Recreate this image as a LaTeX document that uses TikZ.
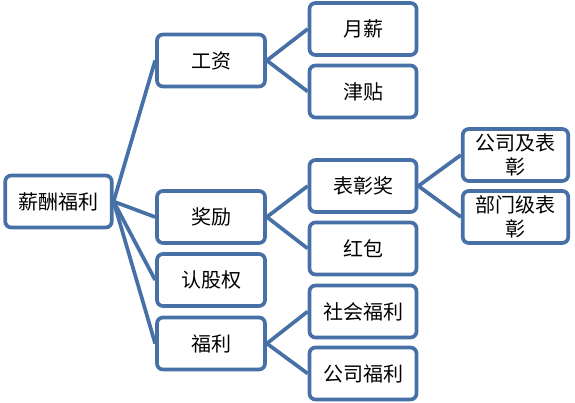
\documentclass[tikz,border=0pt]{standalone}
\usepackage{fontspec}
\setmainfont{Noto Sans CJK SC}
\usetikzlibrary{positioning}
\definecolor{smartblue}{RGB}{71,113,166}

\begin{document}
\begin{tikzpicture}
      [x=1pt, y=-1pt,
      node style1/.style={draw=smartblue, line width=3.7pt, rectangle, rounded corners=6pt, align=center, minimum width=108pt, minimum height=52pt, inner sep=1pt, fill=white, font=\fontsize{20}{24}\selectfont},
      node style2/.style={node style1, minimum width=105.5pt},
      edge style/.style={draw=smartblue, line width=3.7pt}
      ]
      \useasboundingbox (0,0) rectangle (575,402);

      % root
      \node[node style1, minimum width=106.5pt] (pay) at (58.5,201.5) {薪酬福利};

      % first level
      \node[node style1] (wage) at (211,60.5) {工资};
      \node[node style1] (bonus) at (211,217) {奖励};
      \node[node style1] (stock) at (211,280) {认股权};
      \node[node style1] (welfare) at (211,343.5) {福利};

      % second level
      \node[node style1, minimum width=107pt] (salary) at (363,29) {月薪};
      \node[node style1, minimum width=107pt] (allowance) at (363,91.5) {津贴};
      \node[node style1, minimum width=107pt] (award) at (363,186) {表彰奖};
      \node[node style1, minimum width=107pt] (redpack) at (363,248.5) {红包};
      \node[node style1, minimum width=107pt] (social) at (363,311.5) {社会福利};
      \node[node style1, minimum width=107pt] (company) at (363,373.5) {公司福利};

      % third level
      \node[node style2] (corp) at (515.5,155) {公司及表\\彰};
      \node[node style2] (dept) at (515.5,217) {部门级表\\彰};

      \foreach \kid in {wage,bonus,stock,welfare}
        \draw[edge style] (pay.east) -- (\kid.west);
      \draw[edge style] (wage.east) -- (salary.west);
      \draw[edge style] (wage.east) -- (allowance.west);
      \draw[edge style] (bonus.east) -- (award.west);
      \draw[edge style] (bonus.east) -- (redpack.west);
      \draw[edge style] (welfare.east) -- (social.west);
      \draw[edge style] (welfare.east) -- (company.west);
      \draw[edge style] (award.east) -- (corp.west);
      \draw[edge style] (award.east) -- (dept.west);
\end{tikzpicture}
\end{document}
